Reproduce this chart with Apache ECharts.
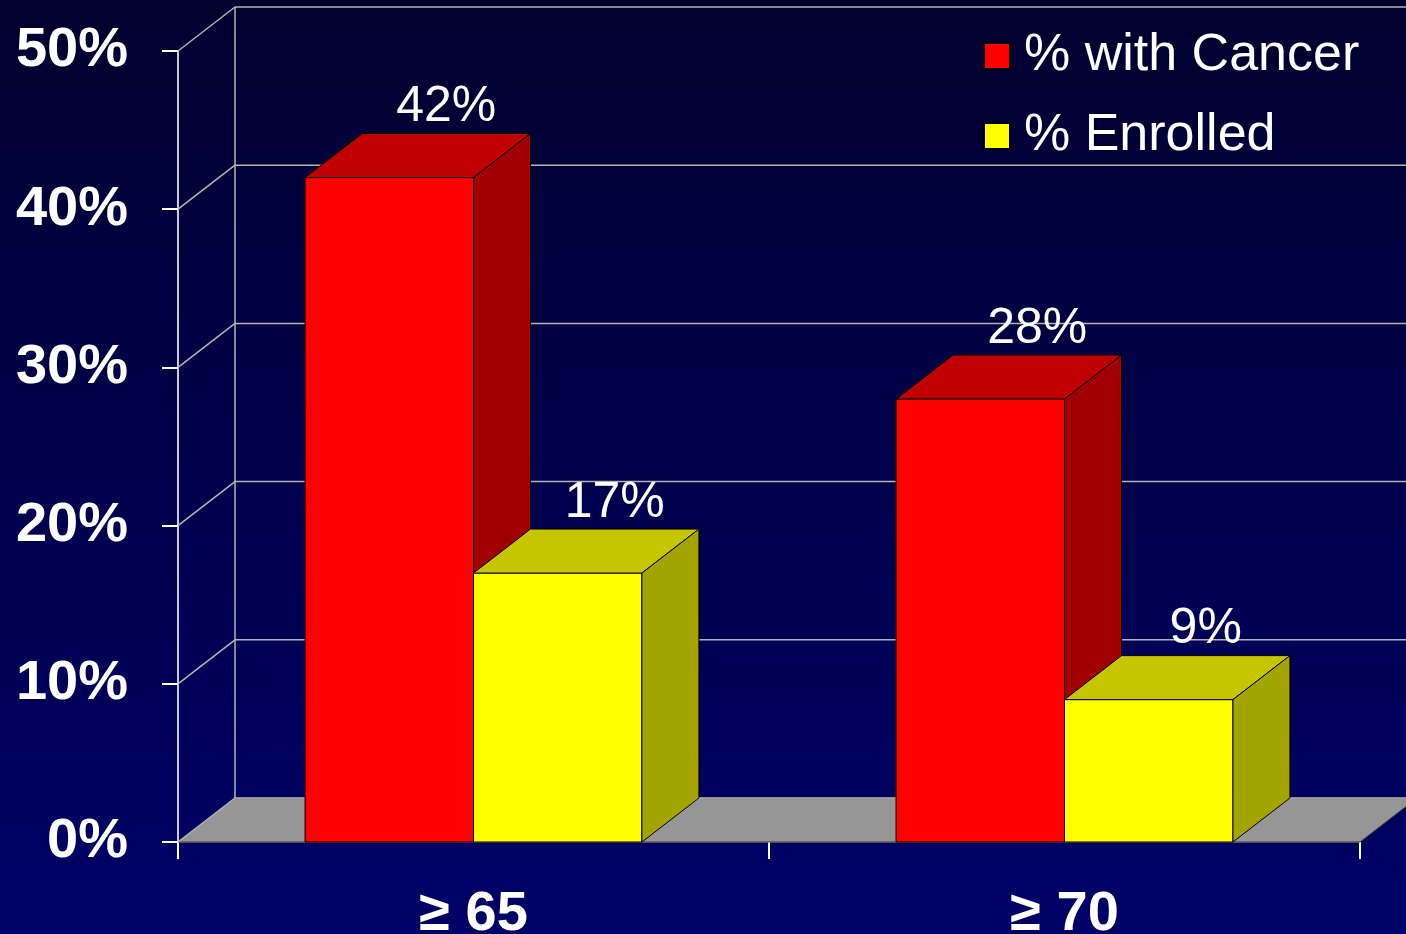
<!DOCTYPE html>
<html>
<head>
<meta charset="utf-8">
<script src="https://cdn.jsdelivr.net/npm/echarts@6/dist/echarts.min.js"></script>
<style>
html,body{margin:0;padding:0;background:#000040;}
#chart{width:1406px;height:934px;}
</style>
</head>
<body>
<div id="chart"></div>
<script>
// ---- data ----
const categories = ['≥ 65', '≥ 70'];
const seriesNames = ['% with Cancer', '% Enrolled'];
const cancerPct = [42, 28];
const enrolledPct = [17, 9];
const yTickValues = [0, 10, 20, 30, 40, 50];

// ---- style constants ----
const FONT = '"Liberation Sans", Arial, sans-serif';
const DX = 57, DY = -44;          // 3D depth offset
const BAR_FRAC = 0.285;           // bar width as fraction of category band
const FACE = [
  { front: '#FF0000', top: '#C00000', side: '#A00000' },
  { front: '#FFFF00', top: '#C6C600', side: '#A4A400' }
];

function barRenderer(side) {
  return function (params, api) {
    const cat = api.value(0), v = api.value(1);
    const base = api.coord([cat, 0]);
    const top = api.coord([cat, v]);
    const bw = api.size([1, 0])[0] * BAR_FRAC;
    const x0 = side === 0 ? base[0] - bw : base[0];
    const x1 = x0 + bw;
    const yT = top[1], yB = base[1];
    const c = FACE[side];
    const stroke = { stroke: '#000', lineWidth: 1 };
    return {
      type: 'group',
      children: [
        { type: 'polygon', shape: { points: [[x0, yT], [x1, yT], [x1, yB], [x0, yB]] },
          style: Object.assign({ fill: c.front }, stroke) },
        { type: 'polygon', shape: { points: [[x0, yT], [x1, yT], [x1 + DX, yT + DY], [x0 + DX, yT + DY]] },
          style: Object.assign({ fill: c.top }, stroke) },
        { type: 'polygon', shape: { points: [[x1, yT], [x1 + DX, yT + DY], [x1 + DX, yB + DY], [x1, yB]] },
          style: Object.assign({ fill: c.side }, stroke) },
        { type: 'text', style: {
            text: v + '%', x: (x0 + x1) / 2 + DX, y: yT + DY - 26,
            align: 'center', verticalAlign: 'middle',
            fill: '#fff', font: '50px ' + FONT } }
      ]
    };
  };
}

function wallRenderer(params, api) {
  const cs = params.coordSys;
  const v = api.value(1);
  const y = api.coord([0, v])[1];
  const xl = cs.x, xr = cs.x + cs.width;
  const grid = { stroke: '#B4B4B4', lineWidth: 1.5 };
  const children = [];
  if (params.dataIndex === 0) {
    const yb = api.coord([0, yTickValues[0]])[1];
    const yt = api.coord([0, yTickValues[yTickValues.length - 1]])[1];
    children.push({ type: 'polygon',
      shape: { points: [[xl, yb], [xr, yb], [xr + DX, yb + DY], [xl + DX, yb + DY]] },
      style: { fill: '#969696', stroke: '#3a3a3a', lineWidth: 1 } });
    children.push({ type: 'line', shape: { x1: xl + DX, y1: yb + DY, x2: xl + DX, y2: yt + DY }, style: grid });
  }
  children.push({ type: 'line', shape: { x1: xl + DX, y1: y + DY, x2: xr + DX, y2: y + DY }, style: grid });
  children.push({ type: 'line', shape: { x1: xl, y1: y, x2: xl + DX, y2: y + DY }, style: grid });
  return { type: 'group', children: children };
}

const chart = echarts.init(document.getElementById('chart'), null, { renderer: 'canvas' });
chart.setOption({
  animation: false,
  backgroundColor: {
    type: 'linear', x: 0, y: 0, x2: 0, y2: 1,
    colorStops: [{ offset: 0, color: '#00002E' }, { offset: 1, color: '#000068' }]
  },
  grid: { left: 178, top: 51, right: 46, bottom: 92, containLabel: false, outerBoundsMode: 'none' },
  legend: {
    orient: 'vertical', left: 978, top: 25, icon: 'rect',
    itemWidth: 26, itemHeight: 26, itemGap: 28,
    data: [
      { name: seriesNames[0], itemStyle: { color: FACE[0].front, borderColor: '#000', borderWidth: 2 } },
      { name: seriesNames[1], itemStyle: { color: FACE[1].front, borderColor: '#000', borderWidth: 2 } }
    ],
    textStyle: { color: '#fff', fontSize: 52, fontFamily: FONT, lineHeight: 52, padding: [0, 0, 0, 9] }
  },
  xAxis: {
    type: 'category', data: categories, boundaryGap: true,
    axisLine: { lineStyle: { color: '#6a6a6a', width: 2 } },
    axisTick: { show: true, length: 17, lineStyle: { color: '#fff', width: 2 } },
    axisLabel: { color: '#fff', fontSize: 56, fontWeight: 'bold', fontFamily: FONT, margin: 45, lineHeight: 56 },
    splitLine: { show: false }
  },
  yAxis: {
    type: 'value', min: 0, max: 50, interval: 10,
    axisLine: { show: true, lineStyle: { color: '#C8C8C8', width: 2 } },
    axisTick: { show: true, length: 16, lineStyle: { color: '#fff', width: 2 } },
    axisLabel: { color: '#fff', fontSize: 56, fontWeight: 'bold', fontFamily: FONT, margin: 50,
      formatter: '{value}%' },
    splitLine: { show: false }
  },
  series: [
    { type: 'custom', name: 'walls', silent: true, clip: false, z: 1,
      renderItem: wallRenderer,
      data: yTickValues.map(v => [0, v]) },
    { type: 'custom', name: seriesNames[0], clip: false, z: 2,
      itemStyle: { color: FACE[0].front },
      renderItem: barRenderer(0),
      data: cancerPct.map((v, i) => [i, v]) },
    { type: 'custom', name: seriesNames[1], clip: false, z: 3,
      itemStyle: { color: FACE[1].front },
      renderItem: barRenderer(1),
      data: enrolledPct.map((v, i) => [i, v]) }
  ]
});
</script>
</body>
</html>
